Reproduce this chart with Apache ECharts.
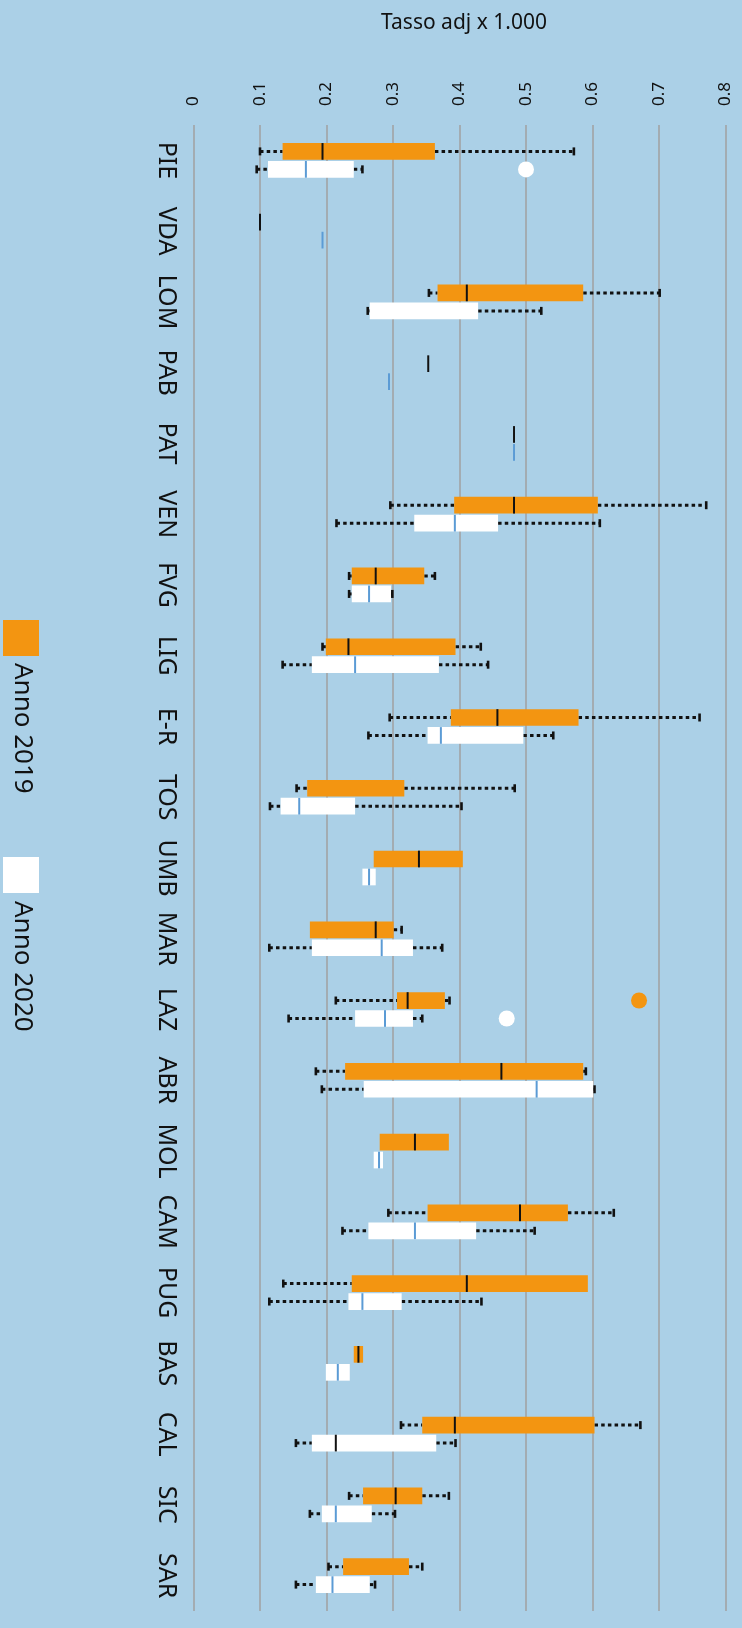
<!DOCTYPE html>
<html>
<head>
<meta charset="utf-8">
<script src="https://cdn.jsdelivr.net/npm/echarts@6/dist/echarts.min.js"></script>
<style>
  html, body { margin: 0; padding: 0; background: #abd0e7; }
  #chart { width: 742px; height: 1628px; }
</style>
</head>
<body>
<div id="chart"></div>
<script>
// regions, top to bottom
const regions = ['PIE', 'VDA', 'LOM', 'PAB', 'PAT', 'VEN', 'FVG', 'LIG', 'E-R', 'TOS', 'UMB',
  'MAR', 'LAZ', 'ABR', 'MOL', 'CAM', 'PUG', 'BAS', 'CAL', 'SIC', 'SAR'];

// [min, q1, median, q3, max]  (null median = not shown in the original)
const box2019 = [
  [0.100, 0.134, 0.194, 0.363, 0.572],
  [0.100, 0.100, 0.100, 0.100, 0.100],
  [0.354, 0.367, 0.411, 0.586, 0.701],
  [0.353, 0.353, 0.353, 0.353, 0.353],
  [0.482, 0.482, 0.482, 0.482, 0.482],
  [0.296, 0.392, 0.482, 0.608, 0.771],
  [0.234, 0.238, 0.274, 0.347, 0.363],
  [0.194, 0.199, 0.233, 0.394, 0.432],
  [0.295, 0.387, 0.457, 0.579, 0.761],
  [0.155, 0.171, null, 0.317, 0.483],
  [0.271, 0.271, 0.339, 0.405, 0.405],
  [0.175, 0.175, 0.274, 0.301, 0.313],
  [0.214, 0.306, 0.322, 0.378, 0.385],
  [0.184, 0.228, 0.463, 0.586, 0.590],
  [0.280, 0.280, 0.333, 0.384, 0.384],
  [0.293, 0.352, 0.491, 0.563, 0.632],
  [0.135, 0.238, 0.411, 0.593, 0.593],
  [0.241, 0.241, 0.248, 0.255, 0.255],
  [0.312, 0.344, 0.393, 0.603, 0.672],
  [0.234, 0.255, 0.304, 0.344, 0.384],
  [0.203, 0.225, null, 0.324, 0.344]
];
const box2020 = [
  [0.095, 0.112, 0.169, 0.241, 0.254],
  [0.194, 0.194, 0.194, 0.194, 0.194],
  [0.262, 0.265, null, 0.428, 0.523],
  [0.294, 0.294, 0.294, 0.294, 0.294],
  [0.482, 0.482, 0.482, 0.482, 0.482],
  [0.215, 0.332, 0.393, 0.458, 0.611],
  [0.234, 0.238, 0.264, 0.297, 0.299],
  [0.134, 0.178, 0.243, 0.369, 0.443],
  [0.263, 0.352, 0.372, 0.496, 0.541],
  [0.115, 0.131, 0.159, 0.243, 0.403],
  [0.254, 0.254, 0.264, 0.274, 0.274],
  [0.114, 0.178, 0.283, 0.330, 0.374],
  [0.143, 0.243, 0.288, 0.330, 0.344],
  [0.193, 0.256, 0.516, 0.601, 0.603],
  [0.271, 0.271, 0.279, 0.285, 0.285],
  [0.224, 0.263, 0.333, 0.425, 0.513],
  [0.114, 0.233, 0.254, 0.313, 0.433],
  [0.199, 0.199, 0.217, 0.235, 0.235],
  [0.154, 0.178, 0.214, 0.365, 0.394],
  [0.175, 0.193, 0.214, 0.268, 0.303],
  [0.154, 0.184, 0.209, 0.265, 0.273]
];

const outliers2019 = [[0.670, 'LAZ']];
const outliers2020 = [[0.500, 'PIE'], [0.471, 'LAZ']];

const FONT = '"Noto Sans", sans-serif';
const ORANGE = '#f39511';
const WHITE = '#ffffff';
const INK = '#111111';
const BLUE = '#5b9bd5';

// box drawn above (shift < 0) or below (shift > 0) the category centre
function boxRenderer(shift, fill, medColor, medColorFor) {
  return function (params, api) {
    const cat = api.value(0);
    const band = api.size([0, 1])[1];
    const yc = api.coord([0, cat])[1] + shift * band;
    const h = band * 0.236;
    const px = v => api.coord([v, cat])[0];
    const lo = api.value(1), q1 = api.value(2), med = api.value(3), q3 = api.value(4), hi = api.value(5);
    const dotted = { stroke: INK, lineWidth: 3, lineDash: [3.5, 3.2] };
    const cap = { stroke: INK, lineWidth: 2.6 };
    const kids = [];
    if (q1 > lo) {
      kids.push({ type: 'line', shape: { x1: px(lo), y1: yc, x2: px(q1), y2: yc }, style: dotted });
      kids.push({ type: 'line', shape: { x1: px(lo), y1: yc - 4, x2: px(lo), y2: yc + 4 }, style: cap });
    }
    if (hi > q3) {
      kids.push({ type: 'line', shape: { x1: px(q3), y1: yc, x2: px(hi), y2: yc }, style: dotted });
      kids.push({ type: 'line', shape: { x1: px(hi), y1: yc - 4, x2: px(hi), y2: yc + 4 }, style: cap });
    }
    if (q3 > q1) {
      kids.push({ type: 'rect', shape: { x: px(q1), y: yc - h / 2, width: px(q3) - px(q1), height: h },
        style: { fill: fill } });
    }
    if (!isNaN(med)) {
      const c = (medColorFor && medColorFor[regions[cat]]) || medColor;
      kids.push({ type: 'line', shape: { x1: px(med), y1: yc - h / 2, x2: px(med), y2: yc + h / 2 },
        style: { stroke: c, lineWidth: 2 } });
    }
    return { type: 'group', children: kids };
  };
}

const chart = echarts.init(document.getElementById('chart'));

chart.setOption({
  backgroundColor: '#abd0e7',
  animation: false,
  title: {
    text: 'Tasso adj x 1.000',
    left: 459,
    textAlign: 'center',
    top: 8,
    textStyle: { fontFamily: FONT, fontSize: 21, fontWeight: 'normal', color: INK }
  },
  grid: { left: 193.5, right: 16.5, top: 125, bottom: 17, outerBoundsMode: 'none' },
  xAxis: {
    type: 'value',
    position: 'top',
    min: 0,
    max: 0.8,
    interval: 0.1,
    axisLine: { show: false },
    axisTick: { show: false },
    axisLabel: { rotate: -90, margin: 19, fontSize: 17, fontFamily: FONT, color: INK },
    splitLine: { lineStyle: { color: '#a0a0a0', width: 1.5 } }
  },
  yAxis: {
    type: 'category',
    data: regions,
    inverse: true,
    axisLine: { show: false },
    axisTick: { show: false },
    splitLine: { show: false },
    axisLabel: { rotate: -90, margin: 15, interval: 0, fontSize: 25, fontFamily: FONT, color: INK }
  },
  series: [
    {
      name: 'Anno 2019',
      type: 'custom',
      renderItem: boxRenderer(-0.127, ORANGE, INK),
      encode: { y: 0, x: [1, 2, 4, 5] },
      data: box2019.map((b, i) => [i].concat(b)),
      z: 2
    },
    {
      name: 'Anno 2020',
      type: 'custom',
      renderItem: boxRenderer(0.127, WHITE, BLUE, { CAL: INK }),
      encode: { y: 0, x: [1, 2, 4, 5] },
      data: box2020.map((b, i) => [i].concat(b)),
      z: 2
    },
    {
      name: 'Anno 2019',
      type: 'scatter',
      data: outliers2019,
      symbolSize: 16,
      symbolOffset: [0, -9],
      itemStyle: { color: ORANGE, opacity: 1 },
      z: 3
    },
    {
      name: 'Anno 2020',
      type: 'scatter',
      data: outliers2020,
      symbolSize: 16,
      symbolOffset: [0, 9],
      itemStyle: { color: WHITE, opacity: 1 },
      z: 3
    }
  ],
  graphic: [
    { type: 'rect', shape: { x: 3, y: 620, width: 36, height: 36 }, style: { fill: ORANGE } },
    { type: 'text', x: 22, y: 663, rotation: -Math.PI / 2,
      style: { text: 'Anno 2019', font: '26px ' + FONT, fill: INK, align: 'left', verticalAlign: 'middle' } },
    { type: 'rect', shape: { x: 3, y: 857, width: 36, height: 36 }, style: { fill: WHITE } },
    { type: 'text', x: 22, y: 901, rotation: -Math.PI / 2,
      style: { text: 'Anno 2020', font: '26px ' + FONT, fill: INK, align: 'left', verticalAlign: 'middle' } }
  ]
});
</script>
</body>
</html>
